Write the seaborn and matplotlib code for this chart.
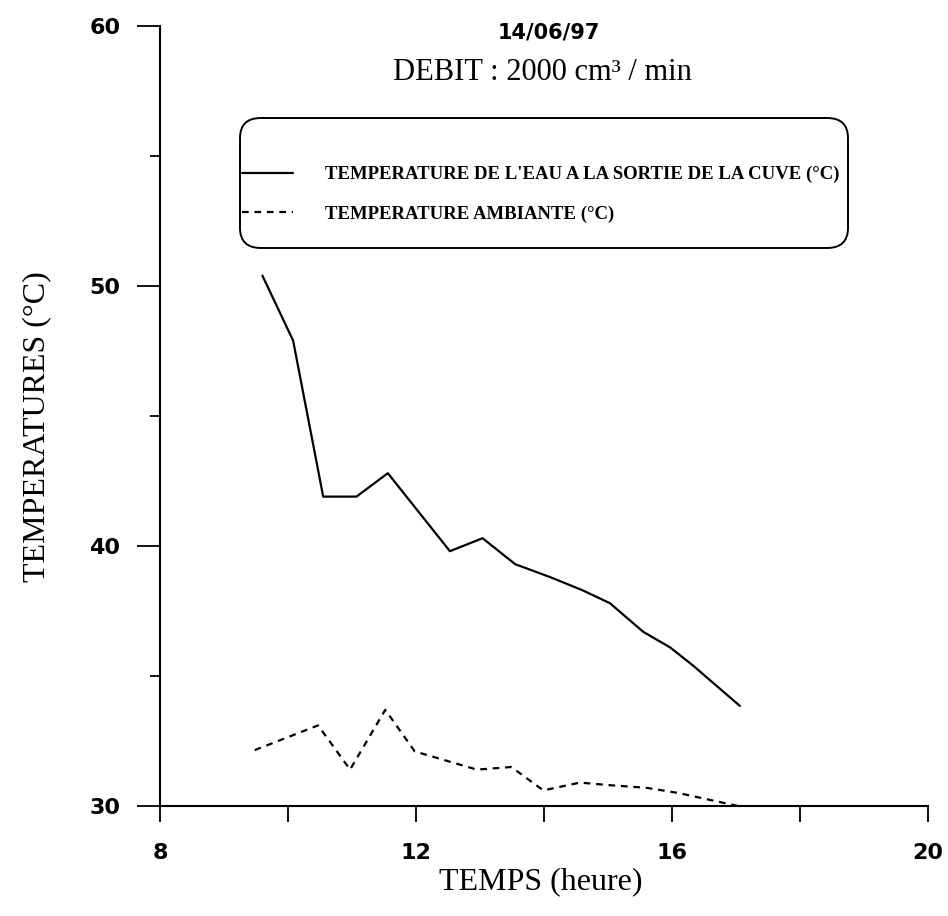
import numpy as np
import pandas as pd
import seaborn as sns
import matplotlib
matplotlib.use("Agg")
import matplotlib.pyplot as plt
from matplotlib.ticker import FixedLocator
from matplotlib.patches import FancyBboxPatch

# ---- data ----
t_eau = [9.6, 10.08, 10.55, 11.07, 11.56, 12.53, 13.04, 13.55, 14.1, 14.6, 15.03, 15.55, 15.97, 16.33, 17.06]
temp_eau = [50.4, 47.9, 41.9, 41.9, 42.8, 39.8, 40.3, 39.3, 38.8, 38.3, 37.8, 36.7, 36.1, 35.4, 33.85]

t_amb = [9.48, 10.47, 10.97, 11.52, 11.98, 12.95, 13.49, 13.99, 14.56, 15.03, 15.6, 16.1, 17.03]
temp_amb = [32.15, 33.1, 31.4, 33.7, 32.1, 31.4, 31.5, 30.6, 30.9, 30.8, 30.7, 30.5, 30.0]

label_eau = "TEMPERATURE DE L'EAU A LA SORTIE DE LA CUVE (°C)"
label_amb = "TEMPERATURE AMBIANTE (°C)"
title_date = "14/06/97"
title_debit = "DEBIT : 2000 cm³ / min"
xlabel = "TEMPS (heure)"
ylabel = "TEMPERATURES (°C)"
xticks_major = [8, 12, 16, 20]
xticks_minor = [10, 14, 18]
yticks_major = [30, 40, 50, 60]
yticks_minor = [35, 45, 55]

sns.set_style("ticks", {"axes.edgecolor": "black", "text.color": "black",
                        "xtick.color": "black", "ytick.color": "black",
                        "axes.labelcolor": "black"})
plt.rcParams['font.family'] = ['DejaVu Sans']
SERIF = ["Liberation Serif", "DejaVu Serif"]

W, H = 948, 916
fig = plt.figure(figsize=(W / 100, H / 100), dpi=100)
ax = fig.add_axes([160 / W, 1 - 806 / H, (928 - 160) / W, (806 - 26) / H])

df_eau = pd.DataFrame({"t": t_eau, "T": temp_eau})
df_amb = pd.DataFrame({"t": t_amb, "T": temp_amb})
sns.lineplot(data=df_eau, x="t", y="T", ax=ax, color="black", lw=1.6, label=label_eau)
sns.lineplot(data=df_amb, x="t", y="T", ax=ax, color="black", lw=1.6,
             linestyle=(0, (3, 2.6)), label=label_amb)

ax.set_xlim(8, 20)
ax.set_ylim(30, 60)
ax.xaxis.set_major_locator(FixedLocator(xticks_major))
ax.xaxis.set_minor_locator(FixedLocator(xticks_minor))
ax.yaxis.set_major_locator(FixedLocator(yticks_major))
ax.yaxis.set_minor_locator(FixedLocator(yticks_minor))
ax.set_xticklabels([str(v) for v in xticks_major], fontsize=16, fontweight="bold", color="black")
ax.set_yticklabels([str(v) for v in yticks_major], fontsize=16, fontweight="bold", color="black")
ax.tick_params(axis="x", which="both", direction="out", length=11.5, width=1.3, pad=15, color="black")
ax.tick_params(axis="y", which="major", direction="out", length=16.5, width=1.3, pad=12, color="black")
ax.tick_params(axis="y", which="minor", direction="out", length=7, width=1.3, color="black")
for s in ["top", "right"]:
    ax.spines[s].set_visible(False)
for s in ["left", "bottom"]:
    ax.spines[s].set_linewidth(1.5)
    ax.spines[s].set_color("black")

ax.set_xlabel(xlabel, fontsize=23, family=SERIF, color="black")
ax.xaxis.set_label_coords((541 - 160) / 768, -(882 - 806) / 780)
ax.set_ylabel(ylabel, fontsize=23, family=SERIF, color="black")
ax.yaxis.set_label_coords((37 - 160) / 768, (806 - 427) / 780)
ax.xaxis.label.set_va("center")
ax.yaxis.label.set_va("center")

fig.text(549 / W, 1 - 32 / H, title_date, ha="center", va="center", fontsize=15,
         fontweight="bold", color="black")
fig.text(542 / W, 1 - 72 / H, title_debit, ha="center", va="center", fontsize=22,
         family=SERIF, color="black")

# legend box (rounded) and entries
box = FancyBboxPatch((240 / W, 1 - 248 / H), 608 / W, 130 / H,
                     boxstyle="round,pad=0,rounding_size=0.022",
                     transform=fig.transFigure, facecolor="white", edgecolor="black",
                     linewidth=1.4, zorder=4, clip_on=False)
ax.add_patch(box)
leg = ax.legend(loc="upper left", bbox_to_anchor=(242 / W, 1 - 166 / H),
                bbox_transform=fig.transFigure, frameon=False,
                prop={"family": SERIF, "weight": "bold", "size": 13.5},
                handlelength=2.72, handletextpad=1.7, labelspacing=1.18,
                borderpad=0, borderaxespad=0, labelcolor="black")
leg.set_zorder(10)

fig.savefig("out.png", dpi=100, facecolor="white")
